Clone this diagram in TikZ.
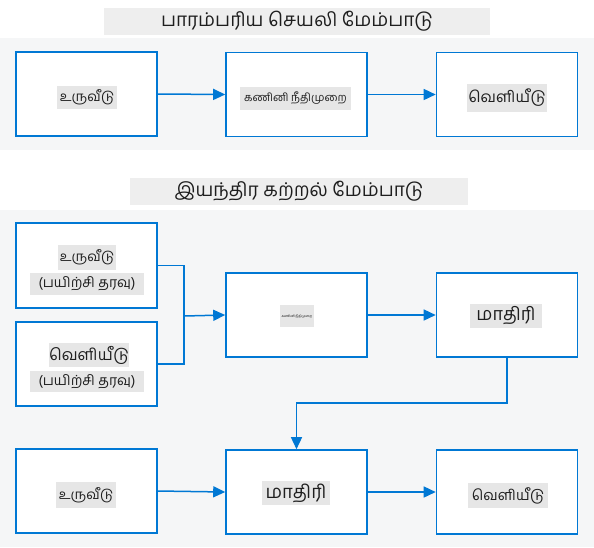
\documentclass[tikz,border=0pt]{standalone}
\usepackage{fontspec}
\setmainfont{Hind Madurai}
\usetikzlibrary{arrows.meta}
\definecolor{msblue}{RGB}{0,120,212}
\definecolor{panelbg}{RGB}{245,246,247}
\definecolor{titlebg}{RGB}{238,238,238}
\definecolor{labelbg}{RGB}{230,230,230}
\definecolor{ink}{RGB}{30,30,30}
\newcommand{\fs}[1]{\fontsize{#1}{#1}\selectfont}
\tikzset{
  panel/.style={fill=panelbg},
  titlebar/.style={fill=titlebg, inner sep=0pt, text=ink, font=\fs{19}},
  stagebox/.style={draw=msblue, fill=white, line width=1.6pt, minimum width=141pt, minimum height=84pt, inner sep=0pt},
  lbl/.style={fill=labelbg, inner sep=0pt, text=ink},
  conn/.style={draw=msblue, line width=1.5pt},
  arr/.style={conn, -{Triangle[length=12pt,width=11pt]}},
}
\begin{document}
\begin{tikzpicture}[x=1pt,y=-1pt]
\useasboundingbox (0,0) rectangle (594,547);
% panels
\fill[panel] (0,38) rectangle (594,150);
\fill[panel] (0,210) rectangle (594,547);
% titles
\node[titlebar, minimum width=386pt, minimum height=27pt] (title1) at (297,21.5) {பாரம்பரிய செயலி மேம்பாடு};
\node[titlebar, minimum width=338pt, minimum height=27pt] (title2) at (299,191.5) {இயந்திர கற்றல் மேம்பாடு};
% traditional
\node[stagebox] (b1) at (86.5,94) {};
\node[stagebox] (b2) at (296.5,94.5) {};
\node[stagebox] (b3) at (507,94.5) {};
\node[lbl, minimum width=60pt, minimum height=23pt, font=\fs{13.5}] (t1) at (87,97.5) {உருவீடு};
\node[lbl, minimum width=111pt, minimum height=23pt, font=\fs{11}] (t2) at (295.5,98.5) {கணினி நீதிமுறை};
\node[lbl, minimum width=80pt, minimum height=28pt, font=\fs{15.5}] (t3) at (507,98) {வெளியீடு};
\draw[arr] (b1.east) -- (b2.west);
\draw[arr] (b2.east) -- (b3.west);
% machine learning
\node[stagebox, minimum height=85pt] (A) at (86.5,265.5) {};
\node[stagebox] (B) at (86.5,364) {};
\node[stagebox] (M) at (296.5,315) {};
\node[stagebox] (D) at (507,315) {};
\node[lbl, minimum width=58pt, minimum height=25pt, font=\fs{13.5}] (a1) at (87,257.5) {உருவீடு};
\node[lbl, minimum width=114pt, minimum height=22pt, font=\fs{14}] (a2) at (87,284) {(பயிற்சி தரவு)};
\node[lbl, minimum width=80pt, minimum height=24pt, font=\fs{16}] (bb1) at (89,355) {வெளியீடு};
\node[lbl, minimum width=114pt, minimum height=21pt, font=\fs{14}] (bb2) at (87,381.5) {(பயிற்சி தரவு)};
\node[lbl, minimum width=34pt, minimum height=22pt, font=\fs{3.3}] (m1) at (297,316) {கணினி நீதிமுறை};
\node[lbl, minimum width=72pt, minimum height=24pt, font=\fs{18}] (d1) at (506,316) {மாதிரி};
\coordinate (j) at (184,316);
\draw[conn] (A.east) -| (j);
\draw[conn] (B.east) -| (j);
\draw[arr] (j) -- (M.west);
\draw[arr] (M.east) -- (D.west);
% inference
\node[stagebox] (c1) at (86.5,491) {};
\node[stagebox] (c2) at (296.5,492) {};
\node[stagebox] (c3) at (507,492) {};
\node[lbl, minimum width=60pt, minimum height=26pt, font=\fs{13.5}] (e1) at (86,495) {உருவீடு};
\node[lbl, minimum width=68pt, minimum height=24pt, font=\fs{18.5}] (e2) at (296,493) {மாதிரி};
\node[lbl, minimum width=80pt, minimum height=25pt, font=\fs{14.5}] (e3) at (508,495.5) {வெளியீடு};
\coordinate (k) at (296.5,403);
\draw[arr] (D.south) |- (k) -- (c2.north);
\draw[arr] (c1.east) -- (c2.west);
\draw[arr] (c2.east) -- (c3.west);
\end{tikzpicture}
\end{document}
